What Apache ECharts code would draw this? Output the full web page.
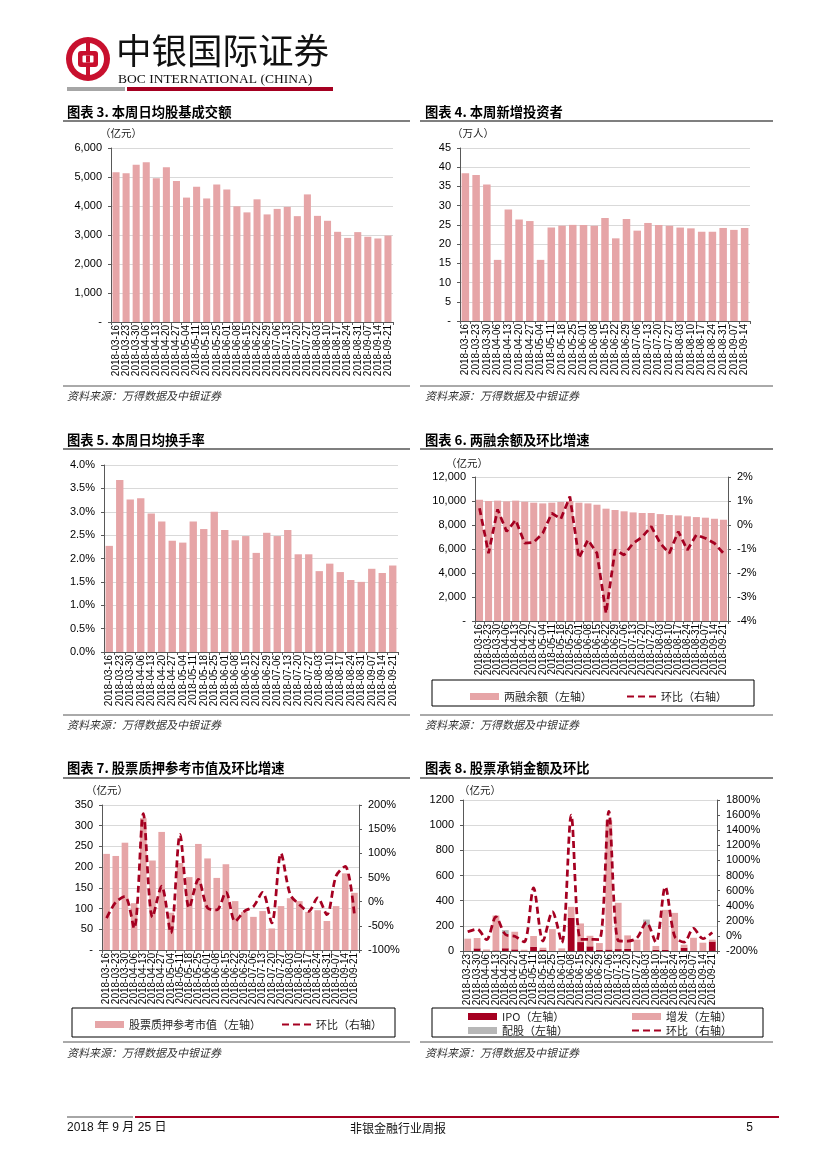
<!DOCTYPE html>
<html><head><meta charset="utf-8">
<script src="https://cdn.jsdelivr.net/npm/echarts@6/dist/echarts.min.js"></script>
<style>html,body{margin:0;padding:0;background:#fff}#c{width:827px;height:1169px}</style>
</head><body><div id="c"></div>
<script>
// ---------- DATA ----------
const cat3 = ['2018-03-16','2018-03-23','2018-03-30','2018-04-06','2018-04-13','2018-04-20','2018-04-27','2018-05-04','2018-05-11','2018-05-18','2018-05-25','2018-06-01','2018-06-08','2018-06-15','2018-06-22','2018-06-29','2018-07-06','2018-07-13','2018-07-20','2018-07-27','2018-08-03','2018-08-10','2018-08-17','2018-08-24','2018-08-31','2018-09-07','2018-09-14','2018-09-21'];
const turnover = [5160,5130,5420,5510,4960,5340,4860,4290,4660,4260,4740,4570,3990,3780,4230,3710,3900,3970,3650,4400,3660,3490,3110,2900,3100,2940,2880,2980];

const cat4 = ['2018-03-16','2018-03-23','2018-03-30','2018-04-06','2018-04-13','2018-04-20','2018-04-27','2018-05-04','2018-05-11','2018-05-18','2018-05-25','2018-06-01','2018-06-08','2018-06-15','2018-06-22','2018-06-29','2018-07-06','2018-07-13','2018-07-20','2018-07-27','2018-08-03','2018-08-10','2018-08-17','2018-08-24','2018-08-31','2018-09-07','2018-09-14'];
const newInvestors = [38.4,38.0,35.5,15.9,29.0,26.4,26.0,15.9,24.3,24.8,25.0,25.0,24.8,26.8,21.5,26.5,23.5,25.5,25.0,24.8,24.3,24.1,23.2,23.2,24.2,23.7,24.2];

const cat5 = cat3;
const turnoverRate = [2.27,3.68,3.26,3.29,2.96,2.79,2.38,2.34,2.79,2.63,3.00,2.61,2.39,2.48,2.12,2.55,2.48,2.61,2.09,2.09,1.73,1.89,1.71,1.54,1.50,1.78,1.69,1.85];

const cat6 = cat3;
const marginBalance = [10100,10000,10030,9970,10030,9940,9860,9800,9860,9920,10000,9860,9800,9690,9360,9250,9140,9050,9000,9000,8910,8830,8800,8720,8660,8610,8520,8440];
const marginChg = [0.70,-1.18,0.65,-0.27,0.21,-0.76,-0.72,-0.34,0.49,0.25,1.19,-1.38,-0.62,-1.18,-3.68,-1.04,-1.25,-0.76,-0.50,-0.06,-0.76,-1.18,-0.27,-1.04,-0.41,-0.55,-0.76,-1.18];

const cat7 = cat3;
const pledgeValue = [232,227,259,113,318,216,285,90,210,176,256,221,174,207,118,92,80,94,52,106,125,118,92,96,70,106,185,138];
const pledgeChg = [-34,-1,11,-55,182,-32,32,-65,139,-13,46,-13,-17,20,-41,-20,-10,19,-44,100,15,-6,-20,8,-27,53,73,-27];

const cat8 = ['2018-03-23','2018-03-30','2018-04-06','2018-04-13','2018-04-20','2018-04-27','2018-05-04','2018-05-11','2018-05-18','2018-05-25','2018-06-01','2018-06-08','2018-06-15','2018-06-22','2018-06-29','2018-07-06','2018-07-13','2018-07-20','2018-07-27','2018-08-03','2018-08-10','2018-08-17','2018-08-24','2018-08-31','2018-09-07','2018-09-14','2018-09-21'];
const ipo = [0,21,0,5,22,13,0,34,10,0,0,264,71,37,10,12,15,16,0,0,10,8,0,26,0,0,75];
const seo = [98,82,12,277,110,140,10,85,16,174,21,87,148,84,53,1028,368,108,90,200,30,319,303,24,105,66,15];
const rights = [0,0,0,0,34,0,0,0,0,0,0,0,0,0,0,0,0,0,0,50,0,0,0,0,0,0,0];
const underwriteChg = [55,90,-50,253,20,-5,-80,635,-68,320,-90,1600,-46,-46,-48,1650,-63,-68,-27,180,-84,650,-7,-83,100,-37,45];

// ---------- STYLE ----------
const FN = '"Liberation Sans Narrow","Arial Narrow","Liberation Sans",Arial,sans-serif';
const FC = '"Noto Sans CJK SC",sans-serif';
const PINK = '#E6A5A7';
const RED = '#A50021';
const GRAY = '#B7B7B7';
const AX = '#595959';

const comma = v => v === 0 ? '-' : v.toLocaleString('en-US');

function xAx(gi, data) {
  return {type:'category', gridIndex:gi, data:data, boundaryGap:true,
    axisLine:{show:true, lineStyle:{color:AX, width:1}},
    axisTick:{show:true, length:3, lineStyle:{color:AX}},
    axisLabel:{rotate:90, interval:0, margin:3, fontSize:10, color:'#000', fontFamily:FN}};
}
function yAx(gi, min, max, interval, fmt, right) {
  return {type:'value', gridIndex:gi, min:min, max:max, interval:interval, position: right?'right':'left',
    axisLine:{show:true, lineStyle:{color:AX}},
    axisTick:{show:true, length:3, lineStyle:{color:AX}},
    splitLine:{show:!right, lineStyle:{color:'#D9D9D9', width:1}},
    axisLabel:{margin:9, fontSize:11, color:'#000', fontFamily:FN, formatter:fmt}};
}

const grids = [
  {left:111, top:148, width:282, height:174},
  {left:460, top:148, width:290, height:173},
  {left:104, top:465, width:294, height:187},
  {left:475, top:477, width:253, height:144},
  {left:102, top:805, width:257, height:145},
  {left:463, top:800, width:254, height:151}
];

const xAxes = [xAx(0,cat3), xAx(1,cat4), xAx(2,cat5), xAx(3,cat6), xAx(4,cat7), xAx(5,cat8)];
const yAxes = [
  yAx(0,0,6000,1000,comma),
  yAx(1,0,45,5,v=>v===0?'-':String(v)),
  yAx(2,0,4,0.5,v=>v.toFixed(1)+'%'),
  yAx(3,0,12000,2000,comma),
  yAx(3,-4,2,1,v=>v+'%',true),
  yAx(4,0,350,50,v=>v===0?'-':String(v)),
  yAx(4,-100,200,50,v=>v+'%',true),
  yAx(5,0,1200,200,v=>String(v)),
  yAx(5,-200,1800,200,v=>v+'%',true)
];

const dash = {color:RED, width:2.75, type:[7,4]};
const series = [
  {type:'bar', name:'c3', xAxisIndex:0, yAxisIndex:0, data:turnover, itemStyle:{color:PINK}, barCategoryGap:'30%'},
  {type:'bar', name:'c4', xAxisIndex:1, yAxisIndex:1, data:newInvestors, itemStyle:{color:PINK}, barCategoryGap:'30%'},
  {type:'bar', name:'c5', xAxisIndex:2, yAxisIndex:2, data:turnoverRate, itemStyle:{color:PINK}, barCategoryGap:'30%'},
  {type:'bar', name:'两融余额（左轴）', xAxisIndex:3, yAxisIndex:3, data:marginBalance, itemStyle:{color:PINK}, barCategoryGap:'22%'},
  {type:'line', name:'环比（右轴）', xAxisIndex:3, yAxisIndex:4, data:marginChg, symbol:'none', lineStyle:dash, itemStyle:{color:RED}, z:5},
  {type:'bar', name:'股票质押参考市值（左轴）', xAxisIndex:4, yAxisIndex:5, data:pledgeValue, itemStyle:{color:PINK}, barCategoryGap:'28%'},
  {type:'line', name:'环比（右轴）', xAxisIndex:4, yAxisIndex:6, data:pledgeChg, symbol:'none', smooth:0.3, lineStyle:dash, itemStyle:{color:RED}, z:5},
  {type:'bar', name:'IPO（左轴）', xAxisIndex:5, yAxisIndex:7, data:ipo, stack:'u', itemStyle:{color:RED}, barCategoryGap:'28%'},
  {type:'bar', name:'增发（左轴）', xAxisIndex:5, yAxisIndex:7, data:seo, stack:'u', itemStyle:{color:PINK}, barCategoryGap:'28%'},
  {type:'bar', name:'配股（左轴）', xAxisIndex:5, yAxisIndex:7, data:rights, stack:'u', itemStyle:{color:GRAY}, barCategoryGap:'28%'},
  {type:'line', name:'环比（右轴）', xAxisIndex:5, yAxisIndex:8, data:underwriteChg, symbol:'none', smooth:0.3, lineStyle:dash, itemStyle:{color:RED}, z:5}
];

const legTxt = {fontSize:11, color:'#222', fontFamily:FC};
const lineItem = {name:'环比（右轴）', itemStyle:{opacity:0}};
const legends = [
  {left:465, top:686, itemWidth:29, itemHeight:7, itemGap:34, textStyle:legTxt, selectedMode:false,
   data:[{name:'两融余额（左轴）', icon:'rect'}, lineItem]},
  {left:90, top:1014, itemWidth:29, itemHeight:7, itemGap:20, textStyle:legTxt, selectedMode:false,
   data:[{name:'股票质押参考市值（左轴）', icon:'rect'}, lineItem]},
  {left:463, top:1006, orient:'vertical', itemWidth:29, itemHeight:7, itemGap:3, textStyle:legTxt, selectedMode:false,
   data:[{name:'IPO（左轴）', icon:'rect'}, {name:'配股（左轴）', icon:'rect'}]},
  {left:626, top:1006, orient:'vertical', itemWidth:29, itemHeight:7, itemGap:3, textStyle:legTxt, selectedMode:false,
   data:[{name:'增发（左轴）', icon:'rect'}, lineItem]}
];

function txt(t, x, y, font, fill, align) {
  return {type:'text', silent:true, style:{text:t, x:x, y:y, font:font, fill:fill||'#000', textAlign:align||'left', align:align||'left', textVerticalAlign:'middle', verticalAlign:'middle'}};
}
function hl(x1, x2, y, color, w) {
  return {type:'line', silent:true, shape:{x1:x1, y1:y, x2:x2, y2:y}, style:{stroke:color, lineWidth:w}};
}
function box(x, y, w, h) {
  return {type:'rect', silent:true, shape:{x:x, y:y, width:w, height:h}, style:{fill:'none', stroke:'#000', lineWidth:1}};
}
const TF = 'bold 13.3px ' + FC;
const SF = 'italic 11px ' + FC;
const UF = '10.5px ' + FC;
const SRC = '资料来源：万得数据及中银证券';

const graphics = [
  // header logo
  {type:'circle', silent:true, shape:{cx:88, cy:59, r:22}, style:{fill:'#C8102E'}},
  {type:'circle', silent:true, shape:{cx:88, cy:59, r:16}, style:{fill:'#fff'}},
  {type:'rect', silent:true, shape:{x:86, y:40, width:4, height:38}, style:{fill:'#C8102E'}},
  {type:'rect', silent:true, shape:{x:78, y:51, width:20, height:16, r:3}, style:{fill:'#C8102E'}},
  {type:'rect', silent:true, shape:{x:82.5, y:55.5, width:11, height:7, r:1}, style:{fill:'#fff'}},
  {type:'rect', silent:true, shape:{x:86, y:55.5, width:4, height:7}, style:{fill:'#C8102E'}},
  txt('中银国际证券', 116, 51, '35.5px ' + FC, '#111'),
  txt('BOC INTERNATIONAL (CHINA)', 118, 79.5, '13.5px "Liberation Serif","Times New Roman",serif', '#111'),
  {type:'rect', silent:true, shape:{x:67, y:87, width:58, height:4}, style:{fill:'#A6A6A6'}},
  {type:'rect', silent:true, shape:{x:127, y:87, width:206, height:4}, style:{fill:'#A50021'}},
  // row 1
  txt('图表 3. 本周日均股基成交额', 67, 112, TF),
  hl(63, 410, 121, '#555', 1.5),
  txt('（亿元）', 100, 133, UF, '#222'),
  hl(63, 410, 386, '#555', 1),
  txt(SRC, 67, 396, SF, '#333'),
  txt('图表 4. 本周新增投资者', 425, 112, TF),
  hl(420, 773, 121, '#555', 1.5),
  txt('（万人）', 452, 133, UF, '#222'),
  hl(420, 773, 386, '#555', 1),
  txt(SRC, 425, 396, SF, '#333'),
  // row 2
  txt('图表 5. 本周日均换手率', 67, 440, TF),
  hl(63, 410, 449, '#555', 1.5),
  hl(63, 410, 715, '#555', 1),
  txt(SRC, 67, 725, SF, '#333'),
  txt('图表 6. 两融余额及环比增速', 425, 440, TF),
  hl(420, 773, 449, '#555', 1.5),
  txt('（亿元）', 446, 463, UF, '#222'),
  box(432, 680, 322, 26),
  hl(420, 773, 715, '#555', 1),
  txt(SRC, 425, 725, SF, '#333'),
  // row 3
  txt('图表 7. 股票质押参考市值及环比增速', 67, 768, TF),
  hl(63, 410, 778, '#555', 1.5),
  txt('（亿元）', 86, 790, UF, '#222'),
  box(72, 1008, 323, 29),
  hl(63, 410, 1042, '#555', 1),
  txt(SRC, 67, 1053, SF, '#333'),
  txt('图表 8. 股票承销金额及环比', 425, 768, TF),
  hl(420, 773, 778, '#555', 1.5),
  txt('（亿元）', 459, 790, UF, '#222'),
  box(432, 1008, 331, 29),
  hl(420, 773, 1042, '#555', 1),
  txt(SRC, 425, 1053, SF, '#333'),
  // footer
  {type:'rect', silent:true, shape:{x:67, y:1116, width:66, height:2}, style:{fill:'#A6A6A6'}},
  {type:'rect', silent:true, shape:{x:135, y:1116, width:644, height:2}, style:{fill:'#A50021'}},
  txt('2018 年 9 月 25 日', 67, 1128, '12px ' + FN + ',' + FC, '#111'),
  txt('非银金融行业周报', 398, 1128, '12px ' + FC, '#111', 'center'),
  txt('5', 753, 1128, '12px ' + FN, '#111', 'right')
];

const chart = echarts.init(document.getElementById('c'), null, {renderer:'canvas'});
chart.setOption({
  animation:false,
  backgroundColor:'#fff',
  textStyle:{fontFamily:FN},
  grid:grids, xAxis:xAxes, yAxis:yAxes, series:series,
  legend:legends, graphic:{elements:graphics}
});
</script></body></html>
